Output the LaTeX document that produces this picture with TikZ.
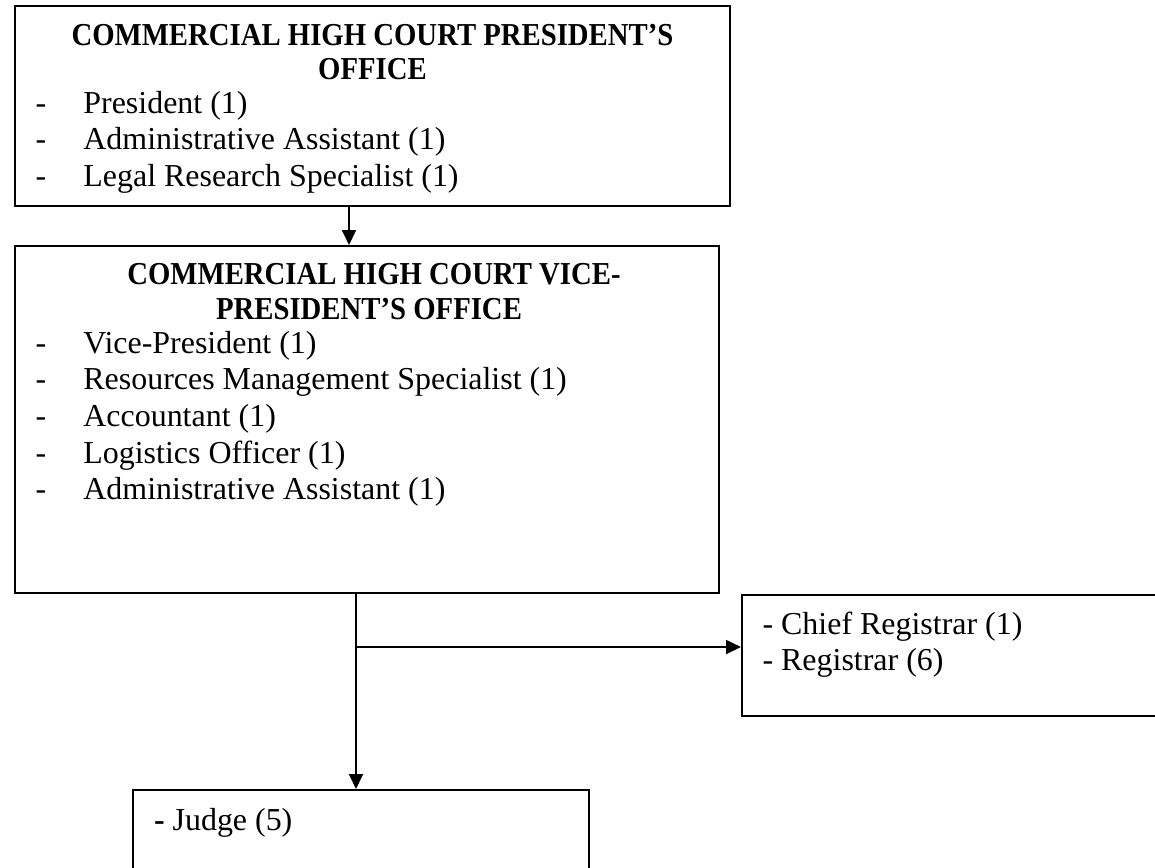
\documentclass[tikz,border=0pt]{standalone}
\usepackage{fontspec}
\setmainfont{Liberation Serif}
\newfontfamily\headfont{Liberation Serif}[FakeStretch=0.9]
\usetikzlibrary{arrows.meta}
\tikzset{
	officebox/.style={draw, line width=0.75pt, rectangle, inner sep=0pt},
	headline/.style={inner sep=0pt, anchor=base, font=\headfont\bfseries\fontsize{12}{13.8}\selectfont},
	staffline/.style={inner sep=0pt, anchor=base west, font=\fontsize{12}{13.8}\selectfont},
	orgarrow/.style={line width=0.75pt, -{Triangle[length=5.6pt, width=5.2pt]}}
}
\newcommand{\stafflist}[1]{\begin{tabular}[t]{@{}p{18pt}@{}l@{}}#1\end{tabular}}

\begin{document}
\begin{tikzpicture}[x=0.3757pt, y=-0.3757pt]
			%%%%% START %%%%%
			\useasboundingbox (0,0) rectangle (1155,867);
			\clip (0,0) rectangle (1155,867);
			
			\node[officebox, minimum width=268.63pt, minimum height=75.14pt] (pres) at (372.5,106) {};
			\node[headline] (pres-head1) at (372.5,45) {COMMERCIAL HIGH COURT PRESIDENT’S};
			\node[headline] (pres-head2) at (372.5,79) {OFFICE};
			\node[staffline] (pres-staff) at (35,113) {\stafflist{
				- & President (1)\\
				- & Administrative Assistant (1)\\
				- & Legal Research Specialist (1)}};
			
			\node[officebox, minimum width=264.5pt, minimum height=130.37pt] (vice) at (367,419.5) {};
			\node[headline] (vice-head1) at (374,284) {COMMERCIAL HIGH COURT VICE-};
			\node[headline] (vice-head2) at (369,319) {PRESIDENT’S OFFICE};
			\node[staffline] (vice-staff) at (35,353) {\stafflist{
				- & Vice-President (1)\\
				- & Resources Management Specialist (1)\\
				- & Accountant (1)\\
				- & Logistics Officer (1)\\
				- & Administrative Assistant (1)}};
			
			\node[officebox, minimum width=162.68pt, minimum height=45.46pt] (reg) at (958.5,655.5) {};
			\node[staffline] (reg-staff) at (762,634) {\begin{tabular}[t]{@{}l@{}}
				- Chief Registrar (1)\\
				- Registrar (6)\end{tabular}};
			
			\node[officebox, minimum width=171.32pt, minimum height=37.57pt] (judge) at (361,840) {};
			\node[staffline] (judge-staff) at (153.5,830) {\textbf{-} Judge (5)};
			
			\coordinate (drop) at (349,226);
			\draw[orgarrow] (drop |- pres.south) -- (drop |- vice.north);
			
			\coordinate (split) at (356,647);
			\draw[orgarrow] (vice.south -| split) -- (split |- judge.north);
			\draw[orgarrow] (split) -- (split -| reg.west);
			
			%%%%% END %%%%%
\end{tikzpicture}
\end{document}
